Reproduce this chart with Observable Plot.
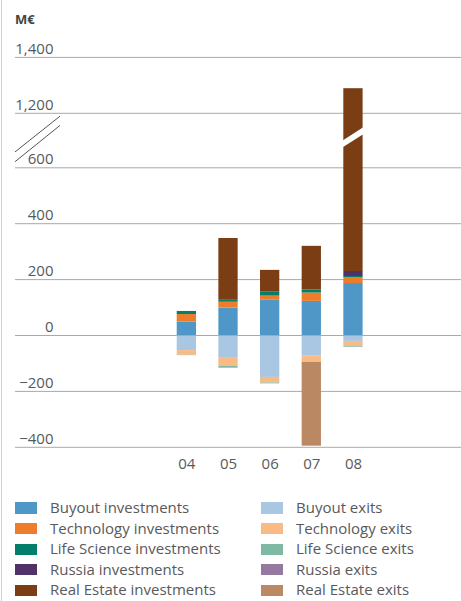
<!DOCTYPE html>
<html>
<head>
<meta charset="utf-8">
<script src="https://cdn.jsdelivr.net/npm/d3@7"></script>
<script src="https://cdn.jsdelivr.net/npm/@observablehq/plot@0.6"></script>
<style>
  html, body { margin: 0; padding: 0; background: #fff; width: 461px; height: 601px; overflow: hidden; }
  body { font-family: "Open Sans", sans-serif; color: #58595b; }
  #wrap { position: relative; width: 461px; height: 601px; }
  #wrap::before { content: ""; position: absolute; left: 1px; top: 0; width: 1px; height: 601px; background: #d0d0d0; }
  #head { position: relative; height: 30px; }
  #unit { position: absolute; left: 15px; top: 12.7px; font-weight: bold; font-size: 13px; line-height: 13px; color: #444; }
  #chart svg { display: block; }
  #legend { margin-top: 7px; display: grid; grid-template-columns: 246px 200px; padding-left: 15px; }
  .item { display: flex; align-items: flex-start; height: 20.6px; line-height: 20.6px; font-size: 15px; white-space: nowrap; color: #58595b; }
  .sw { width: 22px; height: 11.3px; margin-top: 5.4px; margin-right: 13px; flex: none; }
</style>
</head>
<body>
<div id="wrap">
  <div id="head"><span id="unit">M€</span></div>
  <div id="chart"></div>
  <div id="legend"></div>
</div>
<script>
// ---- data ----
const years = ["04", "05", "06", "07", "08"];

const buyoutInvestments     = [48, 98, 126, 122, 186];
const technologyInvestments = [27, 21, 15, 30, 20];
const lifeScienceInvestments = [11, 7, 14, 11, 5];
const russiaInvestments     = [0, 0, 0, 0, 18];
const realEstateInvestments = [0, 221, 78, 156, 1059];

const buyoutExits      = [-54, -79, -150, -74, -21];
const technologyExits  = [-17, -31, -20, -22, -17];
const lifeScienceExits = [-1, -7, -3, 0, -4];
const russiaExits      = [0, 0, 0, 0, 0];
const realEstateExits  = [0, 0, 0, -300, 0];

const seriesNames = [
  "Buyout investments", "Technology investments", "Life Science investments",
  "Russia investments", "Real Estate investments",
  "Buyout exits", "Technology exits", "Life Science exits",
  "Russia exits", "Real Estate exits"
];
const seriesColors = [
  "#4f97c7", "#ee7d2b", "#037e68", "#4f3268", "#7a3d14",
  "#a9c6e2", "#f9bb85", "#7fb9a4", "#9479a1", "#bb8864"
];
const yTicks = [-400, -200, 0, 200, 400, 600, 1200, 1400];

// axis break: values at or above breakFrom are shifted down by breakShift
const breakFrom = 900;
const breakShift = 405;
const f = v => (v >= breakFrom ? v - breakShift : v);

// ---- build stacked rows ----
const posSeries = [buyoutInvestments, technologyInvestments, lifeScienceInvestments, russiaInvestments, realEstateInvestments];
const negSeries = [buyoutExits, technologyExits, lifeScienceExits, russiaExits, realEstateExits];
const rows = [];
years.forEach((yr, i) => {
  let p = 0, n = 0;
  posSeries.forEach((s, k) => {
    const v = s[i];
    if (v) { rows.push({year: yr, series: seriesNames[k], y1: f(p), y2: f(p + v)}); p += v; }
  });
  negSeries.forEach((s, k) => {
    const v = s[i];
    if (v) { rows.push({year: yr, series: seriesNames[k + 5], y1: f(n), y2: f(n + v)}); n += v; }
  });
});

const fmt = d => (d < 0 ? "\u2212" : "") + d3.format(",")(Math.abs(d));

const chart = Plot.plot({
  width: 461,
  height: 460,
  marginLeft: 15,
  marginRight: 0,
  marginTop: 26.9,
  marginBottom: 43.2,
  style: {fontFamily: "Open Sans, sans-serif", fontSize: "15px", color: "#58595b", background: "transparent"},
  x: {domain: years, paddingInner: 0.537, paddingOuter: 3.1225, align: 0.6217, round: false, label: null},
  y: {domain: [f(-400), f(1400)], axis: null},
  color: {domain: seriesNames, range: seriesColors},
  marks: [
    Plot.ruleY(yTicks, {y: d => f(d), stroke: "#a9a9a9", strokeWidth: 1}),
    Plot.barY(rows, {x: "year", y1: "y1", y2: "y2", fill: "series"}),
    Plot.ruleY([0], {stroke: "#a9a9a9", strokeWidth: 1}),
    Plot.text(yTicks, {y: d => f(d), text: d => fmt(d), frameAnchor: "left", dx: 38, dy: -8.3, textAnchor: "end", fill: "#58595b", fontSize: 15}),
    Plot.axisX({tickSize: 0, tickPadding: 11, fontSize: 15, label: null, fill: "#58595b"})
  ]
});
document.getElementById("chart").appendChild(chart);

// ---- break decorations, positioned through the plot's scales ----
const sx = chart.scale("x"), sy = chart.scale("y");
const svg = d3.select(chart);
const bx = sx.apply("08"), bw = sx.bandwidth;
svg.append("polygon")
  .attr("points", [[bx - 1, sy.apply(671)], [bx - 1, sy.apply(695)], [bx + bw + 1, sy.apply(744)], [bx + bw + 1, sy.apply(719)]]
    .map(p => p.join(",")).join(" "))
  .attr("fill", "#fff");
const x0 = 15;
[[655, 783], [620, 750]].forEach(([a, b]) => {
  svg.append("line")
    .attr("x1", x0).attr("y1", sy.apply(a))
    .attr("x2", x0 + 45).attr("y2", sy.apply(b))
    .attr("stroke", "#555").attr("stroke-width", 1);
});

// ---- legend ----
const legend = document.getElementById("legend");
const order = [0, 5, 1, 6, 2, 7, 3, 8, 4, 9];
order.forEach(k => {
  const it = document.createElement("div");
  it.className = "item";
  const sw = document.createElement("span");
  sw.className = "sw";
  sw.style.background = seriesColors[k];
  const tx = document.createElement("span");
  tx.textContent = seriesNames[k];
  it.appendChild(sw); it.appendChild(tx);
  legend.appendChild(it);
});
</script>
</body>
</html>
